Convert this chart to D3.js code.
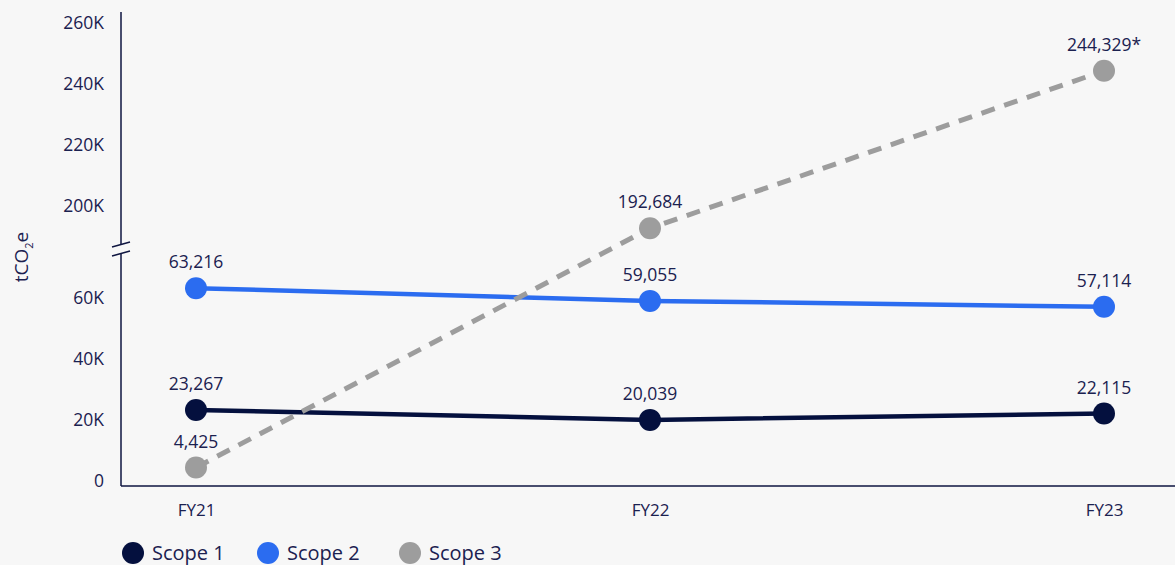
<!DOCTYPE html>
<html>
<head>
<meta charset="utf-8">
<script src="https://cdn.jsdelivr.net/npm/d3@7/dist/d3.min.js"></script>
<style>
  html, body { margin: 0; padding: 0; background: #f7f7f7; }
  svg { display: block; font-family: "Open Sans", "Noto Sans", sans-serif; }
</style>
</head>
<body>
<svg id="chart" width="1175" height="565"></svg>
<script>
// Emissions by scope, tCO2e
const years = ["FY21", "FY22", "FY23"];
const scope1 = [23267, 20039, 22115];
const scope2 = [63216, 59055, 57114];
const scope3 = [4425, 192684, 244329];
const scope3Notes = ["", "", "*"];

const lowerTicks = [0, 20000, 40000, 60000];
const upperTicks = [200000, 220000, 240000, 260000];
const seriesNames = ["Scope 1", "Scope 2", "Scope 3"];

const colors = { "Scope 1": "#04103e", "Scope 2": "#2b6cf0", "Scope 3": "#9d9d9d" };
const textColor = "#1b2150";

const svg = d3.select("#chart");

const x = d3.scalePoint().domain(years).range([196, 1104]);

// Broken value axis: a lower band and an upper band with the same pixels per unit
const yLow = d3.scaleLinear().domain([0, 60000]).range([481, 298]);
const yHigh = d3.scaleLinear().domain([200000, 260000]).range([206, 23]);
const breakValue = 120000;
const yv = v => (v < breakValue ? yLow(v) : yHigh(v));

// Axis lines with break marks
const axisX = 121;
const axisG = svg.append("g").attr("stroke", "#0e1540").attr("stroke-width", 1.5);
axisG.append("line").attr("x1", axisX).attr("x2", axisX).attr("y1", 12).attr("y2", 244);
axisG.append("line").attr("x1", axisX).attr("x2", axisX).attr("y1", 254).attr("y2", 486);
axisG.append("line").attr("x1", 112).attr("x2", 130).attr("y1", 247).attr("y2", 242);
axisG.append("line").attr("x1", 112).attr("x2", 130).attr("y1", 256).attr("y2", 251);
axisG.append("line").attr("x1", axisX).attr("x2", 1175).attr("y1", 486).attr("y2", 486);

const fmtK = d => (d === 0 ? "0" : d / 1000 + "K");

function styleAxis(g, size) {
  g.select(".domain").remove();
  g.selectAll("text")
    .attr("fill", textColor)
    .style("font-size", size)
    .style("font-family", "\"Open Sans\", sans-serif");
}

svg.append("g")
  .attr("transform", "translate(104,0)")
  .call(d3.axisLeft(yLow).tickValues(lowerTicks).tickFormat(fmtK).tickSize(0).tickPadding(0))
  .call(g => styleAxis(g, "17.5px"));

svg.append("g")
  .attr("transform", "translate(104,0)")
  .call(d3.axisLeft(yHigh).tickValues(upperTicks).tickFormat(fmtK).tickSize(0).tickPadding(0))
  .call(g => styleAxis(g, "17.5px"));

svg.append("g")
  .attr("transform", "translate(0,511)")
  .call(d3.axisBottom(x).tickSize(0).tickPadding(0))
  .call(g => {
    styleAxis(g, "17px");
    g.selectAll("text").attr("dy", "0.32em");
  });

// Axis title
const title = svg.append("text")
  .attr("transform", "translate(28,257) rotate(-90)")
  .attr("text-anchor", "middle")
  .attr("fill", textColor)
  .style("font-size", "19px");
title.append("tspan").text("tCO");
title.append("tspan").text("2").style("font-size", "11px").attr("dy", "5");
title.append("tspan").text("e").attr("dy", "-5");

// Series
const series = [
  { name: "Scope 1", values: scope1, dashed: false },
  { name: "Scope 2", values: scope2, dashed: false },
  { name: "Scope 3", values: scope3, dashed: true }
];

const line = d3.line().x(d => x(d.year)).y(d => yv(d.value));

const fmtNum = d3.format(",");

series.forEach(s => {
  const pts = years.map((yr, i) => ({ year: yr, value: s.values[i], i }));
  svg.append("path")
    .datum(pts)
    .attr("fill", "none")
    .attr("stroke", colors[s.name])
    .attr("stroke-width", s.dashed ? 5 : 4.5)
    .attr("stroke-dasharray", s.dashed ? "14,10" : null)
    .attr("d", line);
});

series.forEach(s => {
  const pts = years.map((yr, i) => ({ year: yr, value: s.values[i], i }));
  const g = svg.append("g");
  g.selectAll("circle")
    .data(pts)
    .join("circle")
    .attr("cx", d => x(d.year))
    .attr("cy", d => yv(d.value))
    .attr("r", 11)
    .attr("fill", colors[s.name]);
  g.selectAll("text")
    .data(pts)
    .join("text")
    .attr("x", d => x(d.year))
    .attr("y", d => yv(d.value) - 26)
    .attr("text-anchor", "middle")
    .attr("dy", "0.35em")
    .attr("fill", textColor)
    .style("font-size", "17.5px")
    .text(d => fmtNum(d.value) + (s.name === "Scope 3" ? scope3Notes[d.i] : ""));
});

// Legend
const legendX = [133, 268, 410];
const legend = svg.append("g");
seriesNames.forEach((name, i) => {
  legend.append("circle")
    .attr("cx", legendX[i]).attr("cy", 553).attr("r", 11)
    .attr("fill", colors[name]);
  legend.append("text")
    .attr("x", legendX[i] + 19).attr("y", 553).attr("dy", "0.35em")
    .attr("fill", textColor)
    .style("font-size", "20px")
    .text(name);
});
</script>
</body>
</html>
